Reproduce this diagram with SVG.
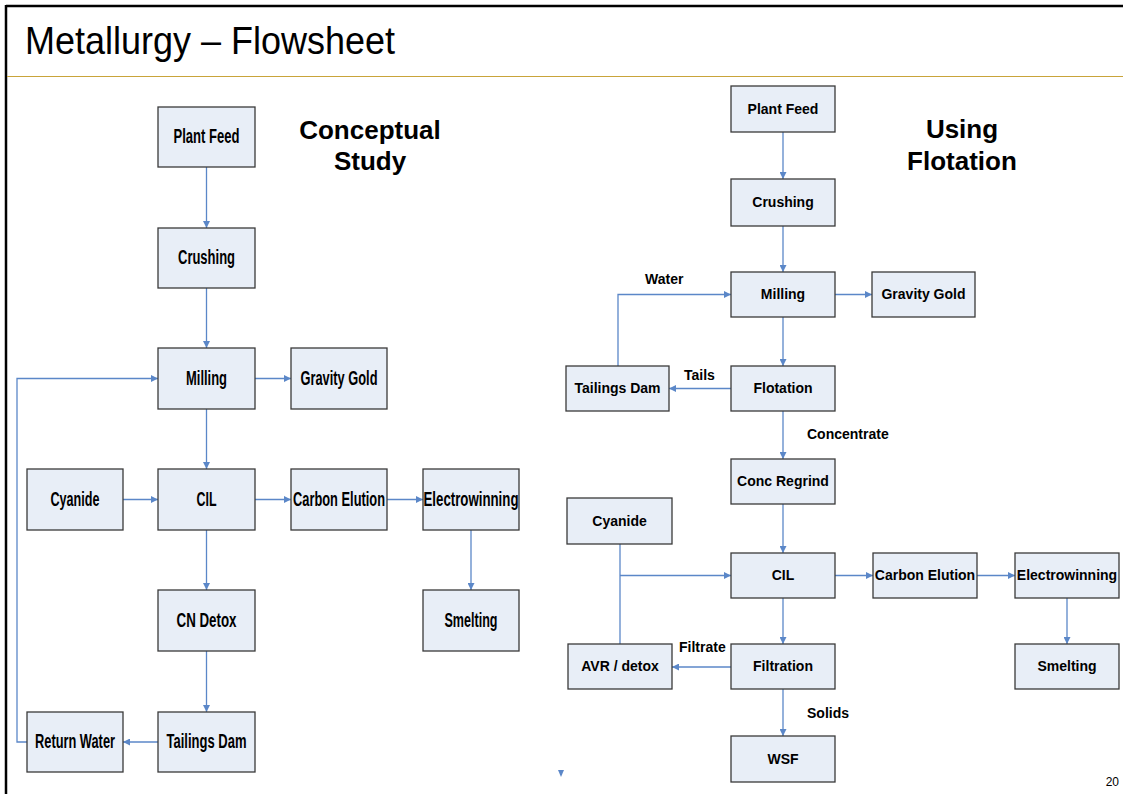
<svg xmlns="http://www.w3.org/2000/svg" width="1123" height="794" viewBox="0 0 1123 794">
<defs>
<marker id="ah" viewBox="0 0 8 8" refX="8" refY="4" markerWidth="7" markerHeight="7" markerUnits="userSpaceOnUse" orient="auto">
<path d="M0,0 L8,4 L0,8 Z" fill="#5B87C8"/>
</marker>
<style>
.box{fill:#E8EEF7;stroke:#3A3A3A;stroke-width:1.3}
.ln{fill:none;stroke:#5B87C8;stroke-width:1.3}
.ar{marker-end:url(#ah)}
.lt{font-family:"Liberation Sans",Arial,sans-serif;font-weight:bold;font-size:20px;fill:#000;text-anchor:middle}
.rt{font-family:"Liberation Sans",Arial,sans-serif;font-weight:bold;font-size:14px;fill:#000;text-anchor:middle}
.lab{font-family:"Liberation Sans",Arial,sans-serif;font-weight:bold;font-size:14px;fill:#000}
.hd{font-family:"Liberation Sans",Arial,sans-serif;font-weight:bold;font-size:26px;fill:#000;text-anchor:middle}
</style>
</defs>
<rect x="0" y="0" width="1123" height="794" fill="#fff"/>
<line x1="6" y1="6" x2="1123" y2="6" stroke="#000" stroke-width="2.5"/>
<line x1="6" y1="5" x2="6" y2="794" stroke="#000" stroke-width="2.5"/>
<line x1="7" y1="76.5" x2="1123" y2="76.5" stroke="#C9A43A" stroke-width="1.2"/>
<text x="25" y="54" font-family="Liberation Sans,Arial,sans-serif" font-size="36" fill="#000" transform="translate(0,54) scale(1,1.1) translate(0,-54)">Metallurgy – Flowsheet</text>
<text x="1119" y="786" font-family="Liberation Sans,Arial,sans-serif" font-size="12" fill="#000" text-anchor="end">20</text>

<text class="hd" x="370" y="139">Conceptual</text>
<text class="hd" x="370" y="170">Study</text>
<text class="hd" x="962" y="138">Using</text>
<text class="hd" x="962" y="170">Flotation</text>

<g id="connectors">
<line class="ln ar" x1="206.5" y1="167" x2="206.5" y2="228"/>
<line class="ln ar" x1="206.5" y1="288" x2="206.5" y2="348"/>
<line class="ln ar" x1="206.5" y1="409" x2="206.5" y2="469"/>
<line class="ln ar" x1="206.5" y1="530" x2="206.5" y2="590"/>
<line class="ln ar" x1="206.5" y1="651" x2="206.5" y2="712"/>
<line class="ln ar" x1="255" y1="378.5" x2="291" y2="378.5"/>
<line class="ln ar" x1="123" y1="499.5" x2="158" y2="499.5"/>
<line class="ln ar" x1="255" y1="499.5" x2="291" y2="499.5"/>
<line class="ln ar" x1="387" y1="499.5" x2="423" y2="499.5"/>
<line class="ln ar" x1="471" y1="530" x2="471" y2="590"/>
<line class="ln ar" x1="158" y1="742" x2="123" y2="742"/>
<polyline class="ln ar" points="27,742 17,742 17,378.5 158,378.5"/>

<line class="ln ar" x1="783" y1="132" x2="783" y2="179"/>
<line class="ln ar" x1="783" y1="226" x2="783" y2="272"/>
<line class="ln ar" x1="835" y1="294.5" x2="872" y2="294.5"/>
<line class="ln ar" x1="783" y1="317" x2="783" y2="366"/>
<line class="ln ar" x1="731" y1="388.5" x2="669" y2="388.5"/>
<polyline class="ln ar" points="618,366 618,294.5 731,294.5"/>
<line class="ln ar" x1="783" y1="411" x2="783" y2="459"/>
<line class="ln ar" x1="783" y1="504" x2="783" y2="553"/>
<line class="ln" x1="620" y1="544" x2="620" y2="644"/>
<line class="ln ar" x1="620" y1="575.5" x2="731" y2="575.5"/>
<line class="ln ar" x1="835" y1="575.5" x2="873" y2="575.5"/>
<line class="ln ar" x1="977" y1="575.5" x2="1015" y2="575.5"/>
<line class="ln ar" x1="1067" y1="598" x2="1067" y2="644"/>
<line class="ln ar" x1="783" y1="598" x2="783" y2="644"/>
<line class="ln ar" x1="731" y1="667" x2="672" y2="667"/>
<line class="ln ar" x1="783" y1="689" x2="783" y2="736"/>
<path d="M558,770 L564,770 L561,777 Z" fill="#5B87C8"/>
</g>

<text class="lab" x="645" y="284">Water</text>
<text class="lab" x="684" y="380">Tails</text>
<text class="lab" x="807" y="439">Concentrate</text>
<text class="lab" x="679" y="652">Filtrate</text>
<text class="lab" x="807" y="718">Solids</text>

<g id="c-plantfeed"><rect class="box" x="158" y="107" width="97" height="60"/><text class="lt" x="206.5" y="143" textLength="66" lengthAdjust="spacingAndGlyphs">Plant Feed</text></g>
<g id="c-crushing"><rect class="box" x="158" y="228" width="97" height="60"/><text class="lt" x="206.5" y="264" textLength="57" lengthAdjust="spacingAndGlyphs">Crushing</text></g>
<g id="c-milling"><rect class="box" x="158" y="348" width="97" height="61"/><text class="lt" x="206.5" y="385" textLength="41" lengthAdjust="spacingAndGlyphs">Milling</text></g>
<g id="c-gravity"><rect class="box" x="291" y="348" width="96" height="61"/><text class="lt" x="339" y="385" textLength="77" lengthAdjust="spacingAndGlyphs">Gravity Gold</text></g>
<g id="c-cyanide"><rect class="box" x="27" y="469" width="96" height="61"/><text class="lt" x="75" y="506" textLength="49" lengthAdjust="spacingAndGlyphs">Cyanide</text></g>
<g id="c-cil"><rect class="box" x="158" y="469" width="97" height="61"/><text class="lt" x="206.5" y="506" textLength="20" lengthAdjust="spacingAndGlyphs">CIL</text></g>
<g id="c-elution"><rect class="box" x="291" y="469" width="96" height="61"/><text class="lt" x="339" y="506" textLength="92" lengthAdjust="spacingAndGlyphs">Carbon Elution</text></g>
<g id="c-ew"><rect class="box" x="423" y="469" width="96" height="61"/><text class="lt" x="471" y="506" textLength="95" lengthAdjust="spacingAndGlyphs">Electrowinning</text></g>
<g id="c-smelting"><rect class="box" x="423" y="590" width="96" height="61"/><text class="lt" x="471" y="627" textLength="53" lengthAdjust="spacingAndGlyphs">Smelting</text></g>
<g id="c-cndetox"><rect class="box" x="158" y="590" width="97" height="61"/><text class="lt" x="206.5" y="627" textLength="60" lengthAdjust="spacingAndGlyphs">CN Detox</text></g>
<g id="c-tailings"><rect class="box" x="158" y="712" width="97" height="60"/><text class="lt" x="206.5" y="748" textLength="80" lengthAdjust="spacingAndGlyphs">Tailings Dam</text></g>
<g id="c-return"><rect class="box" x="27" y="712" width="96" height="60"/><text class="lt" x="75" y="748" textLength="80" lengthAdjust="spacingAndGlyphs">Return Water</text></g>

<g id="f-plantfeed"><rect class="box" x="731" y="86" width="104" height="46"/><text class="rt" x="783" y="114">Plant Feed</text></g>
<g id="f-crushing"><rect class="box" x="731" y="179" width="104" height="47"/><text class="rt" x="783" y="207">Crushing</text></g>
<g id="f-milling"><rect class="box" x="731" y="272" width="104" height="45"/><text class="rt" x="783" y="299">Milling</text></g>
<g id="f-gravity"><rect class="box" x="872" y="272" width="103" height="45"/><text class="rt" x="923.5" y="299">Gravity Gold</text></g>
<g id="f-tailings"><rect class="box" x="566" y="366" width="103" height="45"/><text class="rt" x="617.5" y="393">Tailings Dam</text></g>
<g id="f-flotation"><rect class="box" x="731" y="366" width="104" height="45"/><text class="rt" x="783" y="393">Flotation</text></g>
<g id="f-regrind"><rect class="box" x="731" y="459" width="104" height="45"/><text class="rt" x="783" y="486">Conc Regrind</text></g>
<g id="f-cyanide"><rect class="box" x="567" y="498" width="105" height="46"/><text class="rt" x="619.5" y="526">Cyanide</text></g>
<g id="f-cil"><rect class="box" x="731" y="553" width="104" height="45"/><text class="rt" x="783" y="580">CIL</text></g>
<g id="f-elution"><rect class="box" x="873" y="553" width="104" height="45"/><text class="rt" x="925" y="580">Carbon Elution</text></g>
<g id="f-ew"><rect class="box" x="1015" y="553" width="104" height="45"/><text class="rt" x="1067" y="580">Electrowinning</text></g>
<g id="f-smelting"><rect class="box" x="1015" y="644" width="104" height="45"/><text class="rt" x="1067" y="671">Smelting</text></g>
<g id="f-avr"><rect class="box" x="568" y="644" width="104" height="45"/><text class="rt" x="620" y="671">AVR / detox</text></g>
<g id="f-filtration"><rect class="box" x="731" y="644" width="104" height="45"/><text class="rt" x="783" y="671">Filtration</text></g>
<g id="f-wsf"><rect class="box" x="731" y="736" width="104" height="46"/><text class="rt" x="783" y="764">WSF</text></g>
</svg>
